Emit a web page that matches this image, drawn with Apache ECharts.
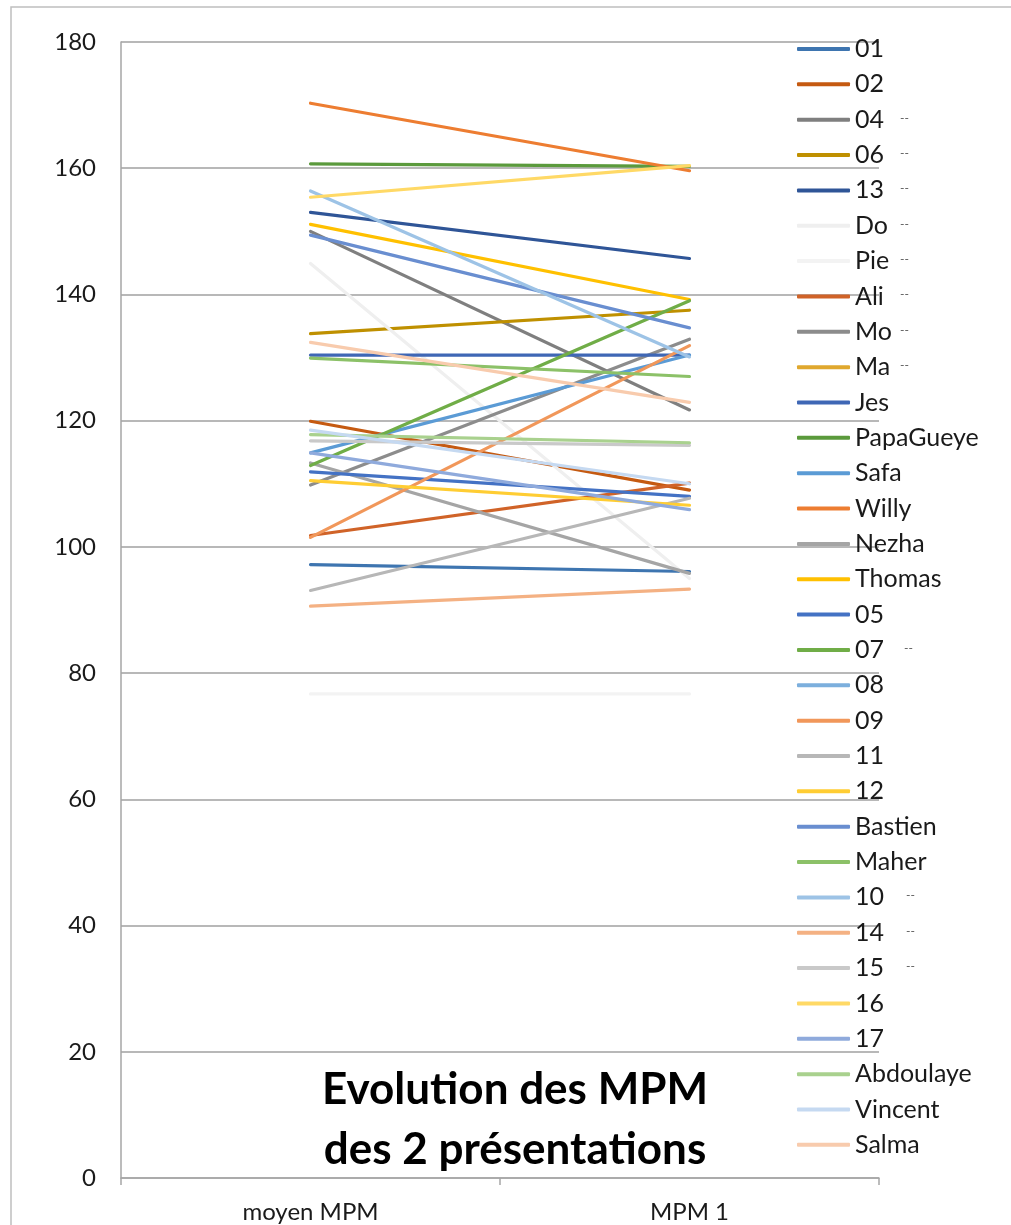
<!DOCTYPE html>
<html>
<head>
<meta charset="utf-8">
<title>Evolution des MPM</title>
<script src="https://cdn.jsdelivr.net/npm/echarts@6.0.0/dist/echarts.min.js"></script>
<style>
  html, body { margin: 0; padding: 0; background: #fff; }
  #chart { width: 1011px; height: 1225px; }
</style>
</head>
<body>
<div id="chart"></div>
<script>
// categories (x axis)
var categories = ['moyen MPM', 'MPM 1'];

// one entry per person, same order as the legend
var names = ['01', '02', '04', '06', '13', 'Do', 'Pie', 'Ali', 'Mo', 'Ma', 'Jes',
  'PapaGueye', 'Safa', 'Willy', 'Nezha', 'Thomas', '05', '07', '08', '09', '11', '12',
  'Bastien', 'Maher', '10', '14', '15', '16', '17', 'Abdoulaye', 'Vincent', 'Salma'];

// value for "moyen MPM"
var moyenMPM = [97.2, 119.9, 150.0, 133.8, 153.0, 144.9, 76.7, 101.8, 109.8, null, 130.4,
  160.7, 114.9, 170.3, 113.3, 151.1, 111.9, 112.9, null, 101.5, 93.1, 110.5,
  149.4, 129.9, 156.4, 90.6, 116.8, 155.4, 114.9, 117.8, 118.5, 132.4];

// value for "MPM 1"
var mpm1 = [96.1, 109.0, 121.7, 137.5, 145.7, 95.0, 76.7, 110.1, 132.9, null, 130.4,
  160.3, 130.4, 159.6, 95.8, 139.2, 108.0, 139.0, null, 131.9, 107.7, 106.6,
  134.7, 127.0, 130.1, 93.3, 116.1, 160.4, 105.9, 116.5, 110.0, 122.9];

// y axis ticks
var yTicks = { min: 0, max: 180, interval: 20 };

// line colours (excel palette)
var colors = ['#3E75B0', '#C55A11', '#7F7F7F', '#BF9000', '#2F5597', '#EFEFEF', '#F3F3F3',
  '#D06328', '#8C8C8C', '#E0A82E', '#3F67B5', '#5B9A3C', '#5B9BD5', '#ED7D31', '#A5A5A5',
  '#FFC000', '#4472C4', '#70AD47', '#7CAFDD', '#F1975A', '#B7B7B7', '#FFCD33', '#698ED0',
  '#8CC168', '#9DC3E6', '#F4B183', '#C9C9C9', '#FFD966', '#8FAADC', '#A9D18E', '#C5D9F1',
  '#F8CBAD'];

var FONT = 'Lato, "Open Sans", sans-serif';
var rowH = 35.35; // legend row pitch

var series = names.map(function (n, i) {
  return {
    name: n,
    type: 'line',
    data: [moyenMPM[i], mpm1[i]],
    color: colors[i],
    showSymbol: false,
    symbol: 'none',
    lineStyle: { width: 3.2, cap: 'round' },
    emphasis: { disabled: true }
  };
});

// little "--" marks beside some legend rows
var dashRows = [[2, 900], [3, 900], [4, 900], [5, 900], [6, 900], [7, 900], [8, 900], [9, 900],
  [17, 904], [24, 906], [25, 906], [26, 906]];
var dashes = dashRows.map(function (r) {
  return {
    type: 'text', x: r[1], y: 49 + r[0] * rowH - 2,
    style: { text: '--', font: '12px ' + FONT, fill: '#555', textVerticalAlign: 'middle' }
  };
});

var chart = echarts.init(document.getElementById('chart'));
chart.setOption({
  animation: false,
  backgroundColor: '#fff',
  grid: { left: 121, right: 132, top: 42, bottom: 47 },
  legend: {
    orient: 'vertical',
    left: 797,
    top: 35,
    padding: 0,
    itemWidth: 53,
    itemHeight: 4,
    itemGap: rowH - 28,
    icon: 'roundRect',
    selectedMode: false,
    textStyle: { fontFamily: FONT, fontSize: 25, color: '#1a1a1a', lineHeight: 28 },
    data: names
  },
  xAxis: {
    type: 'category',
    data: categories,
    boundaryGap: true,
    axisLine: { lineStyle: { color: '#A6A6A6', width: 1.5 } },
    axisTick: { show: true, length: 7, lineStyle: { color: '#A6A6A6', width: 1.5 } },
    axisLabel: { fontFamily: FONT, fontSize: 24, color: '#1a1a1a', margin: 22 }
  },
  yAxis: {
    type: 'value',
    min: yTicks.min,
    max: yTicks.max,
    interval: yTicks.interval,
    axisLine: { show: true, lineStyle: { color: '#A6A6A6', width: 1.5 } },
    axisTick: { show: false },
    axisLabel: { fontFamily: FONT, fontSize: 24, color: '#1a1a1a', margin: 25 },
    splitLine: { lineStyle: { color: '#A0A0A0', width: 1.5 } }
  },
  graphic: [
    {
      type: 'rect', silent: true, z: -1,
      shape: { x: 11, y: 7, width: 1100, height: 1300 },
      style: { fill: 'none', stroke: '#BFBFBF', lineWidth: 1.5 }
    },
    {
      type: 'text', x: 515, y: 1120, z: 10,
      style: {
        text: 'Evolution des MPM\ndes 2 présentations',
        font: 'bold 44px ' + FONT,
        fill: '#000',
        textAlign: 'center',
        textVerticalAlign: 'middle',
        lineHeight: 60
      }
    }
  ].concat(dashes),
  series: series
});
</script>
</body>
</html>
